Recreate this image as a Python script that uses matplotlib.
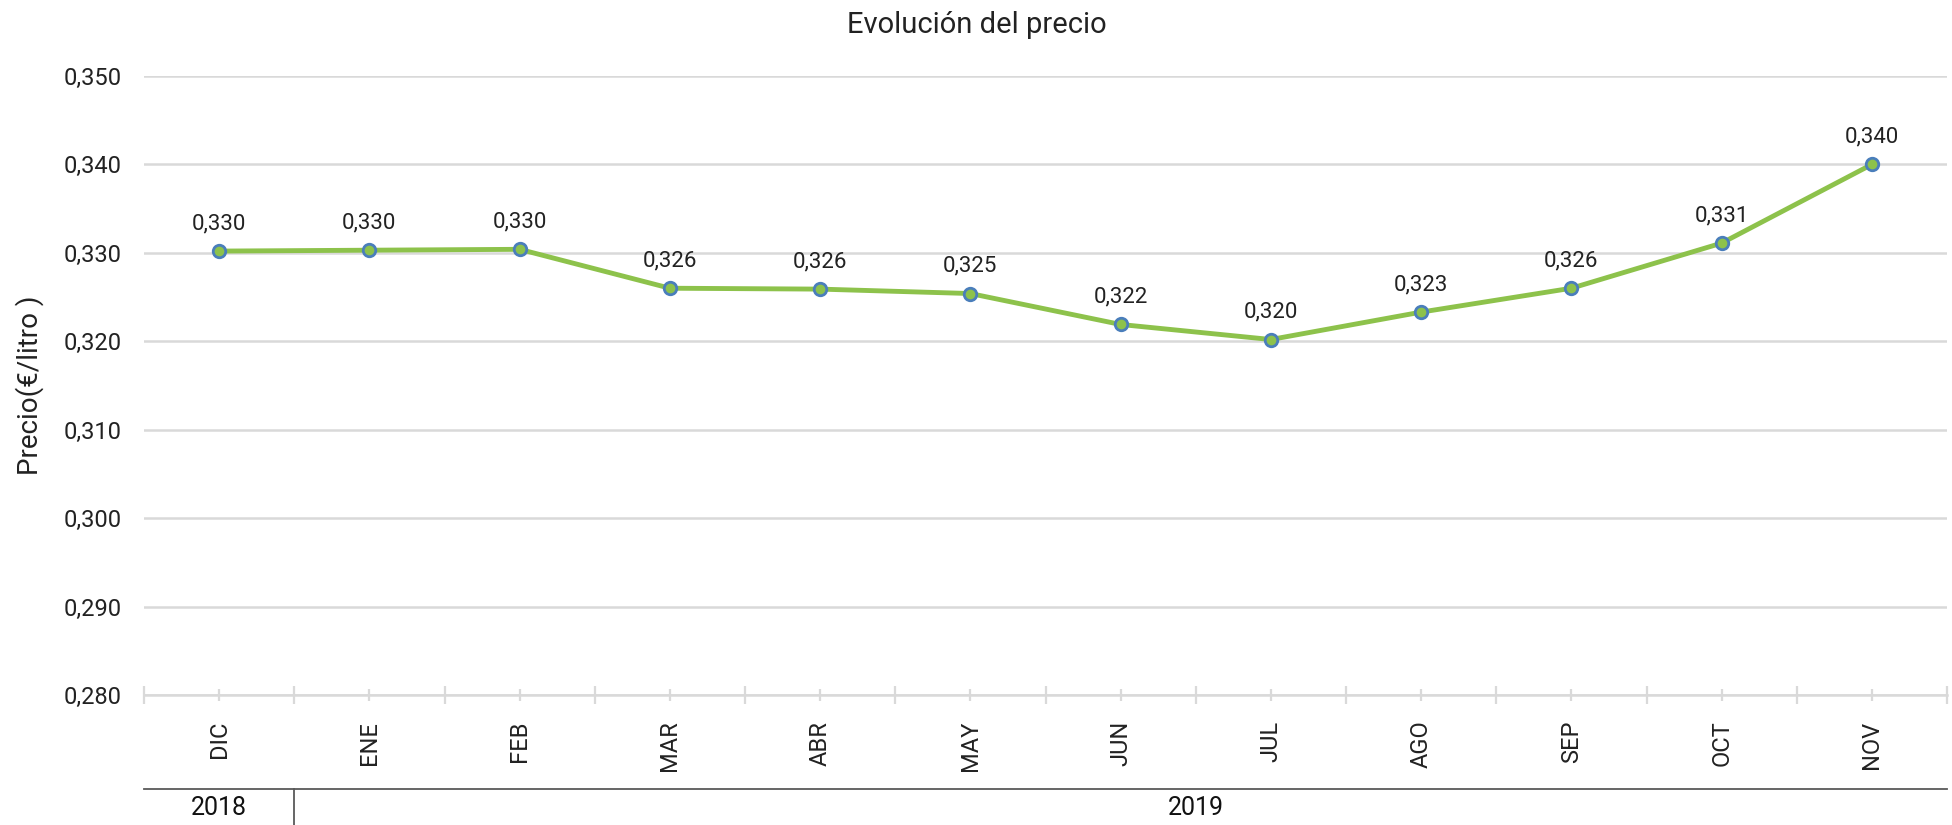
import matplotlib
matplotlib.use("Agg")
import matplotlib.pyplot as plt
from matplotlib.ticker import FixedLocator, FuncFormatter
import matplotlib.transforms as mtransforms

plt.rcParams['font.family'] = ['Liberation Sans Narrow', 'Roboto', 'DejaVu Sans']

# datos
meses = ['DIC', 'ENE', 'FEB', 'MAR', 'ABR', 'MAY', 'JUN', 'JUL', 'AGO', 'SEP', 'OCT', 'NOV']
precio = [0.3302, 0.3303, 0.3304, 0.3260, 0.3259, 0.3254, 0.3219, 0.3202, 0.3233, 0.3260, 0.3311, 0.3400]
anios = ['2018', '2019']
anio_centro = [0, 6.5]   # posicion del texto de cada año (en categorias)
anio_corte = [0.5]       # separadores entre años

verde = '#8dc24b'
azul = '#4a7ebb'
gris = '#d9d9d9'

fig = plt.figure(figsize=(19.52, 8.25), dpi=100)
ax = fig.add_axes([144/1952, 1 - 695/825, (1947-144)/1952, (695-76)/825])

x = list(range(len(meses)))
ax.plot(x, precio, color=verde, lw=3.5, marker='o', markersize=9,
        markerfacecolor=verde, markeredgecolor=azul, markeredgewidth=2, zorder=3)

for xi, v in zip(x, precio):
    ax.annotate(f'{v:.3f}'.replace('.', ','), (xi, v), xytext=(0, 12),
                textcoords='offset points', ha='center', va='bottom', fontsize=16, color='#222222')

ax.set_xlim(-0.5, len(meses) - 0.5)
ax.set_ylim(0.280, 0.350)
ax.set_yticks([0.28 + 0.01*i for i in range(8)])
ax.yaxis.set_major_formatter(FuncFormatter(lambda v, p: f'{v:.3f}'.replace('.', ',')))
ax.grid(axis='y', color=gris, lw=1.8)
ax.set_axisbelow(True)

ax.xaxis.set_major_locator(FixedLocator([i - 0.5 for i in range(len(meses) + 1)]))
ax.xaxis.set_minor_locator(FixedLocator(x))
ax.xaxis.set_major_formatter(FuncFormatter(lambda v, p: ''))
ax.set_xticks(x, meses, minor=True, rotation=90)
ax.tick_params(axis='x', which='major', direction='inout', length=13, width=1.6, color=gris)
ax.tick_params(axis='x', which='minor', direction='inout', length=9, width=1.6, color=gris,
               labelsize=17, pad=14, labelcolor='#222222')
ax.tick_params(axis='y', length=0, labelsize=17, pad=16, labelcolor='#222222')

for s in ['top', 'right', 'left']:
    ax.spines[s].set_visible(False)
ax.spines['bottom'].set_color(gris)
ax.spines['bottom'].set_linewidth(1.8)

# fila de años
trans = mtransforms.blended_transform_factory(ax.transData, ax.transAxes)
y_linea = (695 - 789) / 619
y_fondo = (695 - 825) / 619
ax.plot([-0.5, len(meses) - 0.5], [y_linea, y_linea], transform=trans, color='#595959',
        lw=1.3, clip_on=False)
for c in anio_corte:
    ax.plot([c, c], [y_linea, y_fondo], transform=trans, color='#595959', lw=1.3, clip_on=False)
for a, c in zip(anios, anio_centro):
    ax.text(c, (695 - 808) / 619, a, transform=trans, ha='center', va='center',
            fontsize=18, color='#111111')

ax.set_ylabel('Precio(€/litro )', fontsize=20, color='#222222')
ax.yaxis.set_label_coords((44 - 144) / 1803, 0.5)
fig.text(0.5 * (144 + 1947) / 1952 - 0.035, 1 - 25/825, 'Evolución del precio',
         ha='center', va='center', fontsize=21, color='#222222')

fig.savefig('out.png', dpi=100)
